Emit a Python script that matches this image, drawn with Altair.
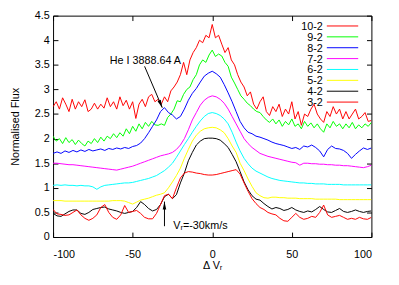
import altair as alt
import pandas as pd
import math

# ---------------- data ----------------
series_order = ["10-2", "9-2", "8-2", "7-2", "6-2", "5-2", "4-2", "3-2"]
series_colors = ["#ff0000", "#00ff00", "#0000ff", "#ff00ff", "#00ffff", "#ffff00", "#000000", "#ff0000"]
series_widths = [1, 1, 1, 1, 1, 1, 1, 2]

x_fine = list(range(-100, 101, 2))            # 101 points, used for the noisiest series
x_coarse = [-100 + 2.5 * i for i in range(81)]  # 81 points

s10_2 = [2.65, 2.75, 2.6, 2.83, 2.7, 2.55, 2.8, 2.6, 2.75, 2.65,
         2.79, 2.55, 2.6, 2.72, 2.6, 2.7, 2.62, 2.83, 2.65, 2.75,
         2.6, 2.85, 2.67, 2.78, 2.6, 2.75, 2.41, 2.7, 2.8, 2.65,
         2.85, 2.9, 2.75, 2.8, 2.7, 2.85, 2.75, 2.97, 3.05, 3.15,
         3.3, 3.55, 3.3, 3.6, 3.75, 3.85, 4.0, 3.95, 4.1, 4.05,
         4.32, 4.05, 4.1, 3.92, 3.75, 3.85, 3.6, 3.5, 3.3, 3.15,
         3.05, 2.87, 2.95, 2.7, 2.6, 2.75, 2.85, 2.55, 2.47, 2.65,
         2.55, 2.7, 2.45, 2.6, 2.5, 2.75, 2.4, 2.55, 2.27, 2.5,
         2.45, 2.6, 2.7, 2.5, 2.4, 2.33, 2.55, 2.45, 2.65, 2.5,
         2.6, 2.4, 2.55, 2.4, 2.5, 2.6, 2.4, 2.45, 2.53, 2.35,
         2.37]

s9_2 = [2.05, 1.95, 2.0, 1.9, 2.02, 1.92, 1.98, 1.88, 1.97, 1.9,
        1.85, 1.95, 1.9, 2.0, 1.92, 2.03, 1.95, 2.05, 2.0, 2.1,
        2.02, 2.12, 2.05, 2.2, 2.1, 2.25, 2.15, 2.3, 2.2, 2.33,
        2.25, 2.35, 2.28, 2.27, 2.3, 2.27, 2.43, 2.5, 2.6, 2.77,
        2.75, 2.9, 3.0, 3.05, 3.2, 3.3, 3.5, 3.6, 3.55, 3.7,
        3.8, 3.67, 3.72, 3.68, 3.55, 3.47, 3.25, 3.13, 3.0, 2.87,
        2.8, 2.72, 2.67, 2.6, 2.55, 2.53, 2.45, 2.38, 2.33, 2.4,
        2.3, 2.38, 2.25, 2.35, 2.28, 2.4, 2.25, 2.3, 2.2, 2.35,
        2.25, 2.32, 2.22, 2.3, 2.2, 2.13, 2.3, 2.22, 2.35, 2.25,
        2.3, 2.2, 2.3, 2.22, 2.33, 2.2, 2.28, 2.22, 2.3, 2.25,
        2.33]

s8_2 = [1.7, 1.73, 1.7, 1.75, 1.72, 1.76, 1.73, 1.77, 1.74, 1.78,
        1.75, 1.77, 1.79, 1.76, 1.8, 1.78, 1.81, 1.79, 1.82, 1.8,
        1.84, 1.86, 1.91, 2.0, 2.12, 2.25, 2.38, 2.55, 2.63, 2.53,
        2.48, 2.4, 2.45, 2.6, 2.78, 2.92, 3.02, 3.15, 3.27, 3.33,
        3.37, 3.32, 3.25, 3.1, 2.93, 2.75, 2.55, 2.35, 2.22, 2.13,
        2.1, 2.05, 2.03, 2.0, 1.97, 1.93, 1.9, 1.88, 1.86, 1.83,
        1.8, 1.82, 1.78, 1.85, 1.83, 1.87, 1.82, 1.75, 1.63, 1.78,
        1.85, 1.8, 1.79, 1.76, 1.7, 1.6, 1.68, 1.75, 1.81, 1.78,
        1.81]

s7_2 = [1.5, 1.5, 1.49, 1.48, 1.47, 1.47, 1.46, 1.45, 1.44, 1.43,
        1.42, 1.41, 1.4, 1.39, 1.38, 1.37, 1.36, 1.38, 1.4, 1.42,
        1.44, 1.47, 1.5, 1.53, 1.56, 1.59, 1.62, 1.65, 1.67, 1.69,
        1.72, 1.78, 1.87, 2.0, 2.18, 2.38, 2.53, 2.68, 2.78, 2.84,
        2.87, 2.85, 2.8, 2.72, 2.6, 2.45, 2.3, 2.15, 2.0, 1.9,
        1.82, 1.76, 1.7, 1.67, 1.64, 1.62, 1.6, 1.58, 1.56, 1.54,
        1.52, 1.51, 1.46, 1.5, 1.5, 1.49, 1.49, 1.48, 1.48, 1.47,
        1.47, 1.46, 1.46, 1.45, 1.45, 1.44, 1.43, 1.42, 1.41, 1.43,
        1.46]

s6_2 = [1.05, 1.06, 1.05, 1.06, 1.05, 1.05, 1.04, 1.05, 1.04, 1.04,
        1.02, 0.97, 1.02, 1.05, 1.06, 1.07, 1.08, 1.09, 1.1, 1.1,
        1.11, 1.13, 1.15, 1.17, 1.19, 1.22, 1.25, 1.3, 1.35, 1.42,
        1.5, 1.62, 1.75, 1.88, 2.0, 2.13, 2.25, 2.36, 2.45, 2.51,
        2.53, 2.51, 2.47, 2.4, 2.3, 2.13, 1.93, 1.75, 1.6, 1.49,
        1.4, 1.34, 1.3, 1.26, 1.22, 1.19, 1.17, 1.15, 1.14, 1.13,
        1.12, 1.11, 1.1, 1.1, 1.09, 1.09, 1.08, 1.08, 1.08, 1.07,
        1.07, 1.07, 1.07, 1.06, 1.06, 1.06, 1.06, 1.06, 1.06, 1.06,
        1.06]

s5_2 = [0.74, 0.74, 0.74, 0.73, 0.73, 0.73, 0.73, 0.73, 0.73, 0.73,
        0.73, 0.73, 0.73, 0.73, 0.73, 0.74, 0.74, 0.74, 0.73, 0.7,
        0.67, 0.71, 0.75, 0.77, 0.79, 0.82, 0.85, 0.87, 0.9, 1.0,
        1.12, 1.25, 1.4, 1.6, 1.78, 1.95, 2.07, 2.15, 2.2, 2.22,
        2.23, 2.22, 2.18, 2.12, 2.0, 1.85, 1.72, 1.5, 1.35, 1.18,
        1.03, 0.9, 0.84, 0.8, 0.79, 0.81, 0.81, 0.8, 0.8, 0.79,
        0.79, 0.79, 0.78, 0.78, 0.78, 0.78, 0.77, 0.77, 0.77, 0.77,
        0.77, 0.77, 0.76, 0.76, 0.76, 0.76, 0.76, 0.76, 0.76, 0.76,
        0.76]

s4_2 = [0.48, 0.43, 0.42, 0.47, 0.52, 0.55, 0.55, 0.48, 0.46, 0.5,
        0.56, 0.58, 0.6, 0.61, 0.57, 0.55, 0.53, 0.5, 0.48, 0.5,
        0.52, 0.6, 0.72, 0.66, 0.58, 0.53, 0.56, 0.66, 0.82, 0.87,
        0.78, 0.86, 1.1, 1.3, 1.55, 1.72, 1.87, 1.95, 2.0, 2.01,
        2.01, 2.0, 1.97, 1.9, 1.82, 1.68, 1.53, 1.33, 1.12, 0.96,
        0.84, 0.77, 0.75, 0.68, 0.62, 0.57, 0.6, 0.58, 0.54, 0.56,
        0.6, 0.55, 0.52, 0.5, 0.53, 0.51, 0.56, 0.62, 0.56, 0.51,
        0.5, 0.54, 0.58, 0.52, 0.5, 0.52, 0.55, 0.52, 0.5, 0.52,
        0.53]

s3_2 = [0.56, 0.47, 0.46, 0.44, 0.45, 0.5, 0.55, 0.45, 0.38, 0.34,
        0.38, 0.45, 0.6, 0.66, 0.5, 0.4, 0.36, 0.45, 0.64, 0.5,
        0.52, 0.54, 0.48, 0.4, 0.37, 0.37, 0.48, 0.66, 0.84, 0.87,
        0.78, 1.0, 1.2, 1.3, 1.33, 1.32, 1.3, 1.29, 1.27, 1.26,
        1.26, 1.27, 1.29, 1.31, 1.33, 1.35, 1.37, 1.28, 1.1, 0.93,
        0.78, 0.68, 0.6, 0.56, 0.5, 0.47, 0.45, 0.38, 0.33, 0.32,
        0.4, 0.48, 0.4, 0.36, 0.38, 0.42, 0.4, 0.5, 0.65, 0.45,
        0.4, 0.42, 0.44, 0.4, 0.36, 0.38, 0.36, 0.4, 0.37, 0.36,
        0.4]

x_ticks = [-100, -50, 0, 50, 100]
y_ticks = [0, 0.5, 1, 1.5, 2, 2.5, 3, 3.5, 4, 4.5]

# annotations
he_label = "He I 3888.64 A"
he_label_pos = [-42, 3.57]
he_arrow = [[-42.5, 3.47], [-31.4, 2.63]]   # tail, tip
vr_label = "Vᵣ=-30km/s"
vr_label_pos = [-24.5, 0.22]
vr_arrow = [[-30, 0.22], [-30, 0.72]]       # tail, tip

# key (legend) placement, in data units: label right edge, line start/end, first row, row step
key_label_x = 69.5
key_line_x = [72.0, 91.7]
key_top_y = 4.29
key_step_y = 0.221

# ---------------- build tables ----------------
series_data = [
    ("10-2", x_fine, s10_2), ("9-2", x_fine, s9_2), ("8-2", x_coarse, s8_2),
    ("7-2", x_coarse, s7_2), ("6-2", x_coarse, s6_2), ("5-2", x_coarse, s5_2),
    ("4-2", x_coarse, s4_2), ("3-2", x_coarse, s3_2),
]
rows = []
for name, xs_, ys_ in series_data:
    for k, (a, b) in enumerate(zip(xs_, ys_)):
        rows.append({"series": name, "v": a, "flux": b, "i": k})
df = pd.DataFrame(rows)

key_df = pd.DataFrame([
    {"series": name, "lx": key_label_x, "x1": key_line_x[0], "x2": key_line_x[1],
     "y": key_top_y - k * key_step_y}
    for k, name in enumerate(series_order)
])

W, H = 325, 226
px_x = W / 200.0
px_y = H / 4.5
head_len = 8  # px

arrow_rows, head_rows = [], []
for aid, (tail, tip) in enumerate([he_arrow, vr_arrow]):
    arrow_rows.append({"a": aid, "x": tail[0], "y": tail[1], "o": 0})
    arrow_rows.append({"a": aid, "x": tip[0], "y": tip[1], "o": 1})
    dxp = (tip[0] - tail[0]) * px_x
    dyp = -(tip[1] - tail[1]) * px_y
    L = math.hypot(dxp, dyp)
    ux, uy = dxp / L, dyp / L
    cx = tip[0] - ux * (head_len / 2) / px_x
    cy = tip[1] + uy * (head_len / 2) / px_y
    ang = (math.degrees(math.atan2(ux, -uy)) + 360) % 360
    head_rows.append({"x": cx, "y": cy, "ang": ang})
arrows_df = pd.DataFrame(arrow_rows)
heads_df = pd.DataFrame(head_rows)
labels_df = pd.DataFrame([{"x": he_label_pos[0], "y": he_label_pos[1], "t": he_label}])
vr_df = pd.DataFrame([{"x": vr_label_pos[0], "y": vr_label_pos[1], "t": vr_label}])

FONT = "Liberation Sans"
xs = alt.Scale(domain=[-100, 100], nice=False, zero=False)
ys = alt.Scale(domain=[0, 4.5], nice=False, zero=False)
cscale = alt.Scale(domain=series_order, range=series_colors)
wscale = alt.Scale(domain=series_order, range=series_widths)

lines = alt.Chart(df).mark_line(clip=True).encode(
    x=alt.X("v:Q", scale=xs, axis=alt.Axis(
        values=x_ticks, labelExpr="'' + datum.value", ticks=False, tickSize=0,
        domain=False, grid=False, title="Δ Vᵣ", labelPadding=12, titlePadding=0,
        orient="bottom")),
    y=alt.Y("flux:Q", scale=ys, axis=alt.Axis(
        values=y_ticks, labelExpr="'' + datum.value", ticks=False, tickSize=0,
        domain=False, grid=False, title="Normalised Flux", labelPadding=4,
        titlePadding=14, orient="left")),
    color=alt.Color("series:N", scale=cscale, legend=None),
    strokeWidth=alt.StrokeWidth("series:N", scale=wscale, legend=None),
    order="i:Q",
)

def tick_layer(xo, yo):
    return alt.Chart(df).mark_point(opacity=0).encode(
        x=alt.X("v:Q", scale=xs, axis=alt.Axis(
            orient=xo, offset=-5, tickSize=5, labels=False, domain=False,
            grid=False, title=None, values=x_ticks, tickColor="black")),
        y=alt.Y("flux:Q", scale=ys, axis=alt.Axis(
            orient=yo, offset=-5, tickSize=5, labels=False, domain=False,
            grid=False, title=None, values=y_ticks, tickColor="black")),
    )

ticks_a = tick_layer("bottom", "left")
ticks_b = tick_layer("top", "right")

key_lines = alt.Chart(key_df).mark_rule().encode(
    x=alt.X("x1:Q", scale=xs, axis=None),
    x2="x2:Q",
    y=alt.Y("y:Q", scale=ys, axis=None),
    color=alt.Color("series:N", scale=cscale, legend=None),
    strokeWidth=alt.StrokeWidth("series:N", scale=wscale, legend=None),
)
key_text = alt.Chart(key_df).mark_text(
    align="right", baseline="middle", fontSize=11, font=FONT, color="black", dy=1
).encode(
    x=alt.X("lx:Q", scale=xs, axis=None),
    y=alt.Y("y:Q", scale=ys, axis=None),
    text="series:N",
)

arrow_lines = alt.Chart(arrows_df).mark_line(color="black", strokeWidth=1).encode(
    x=alt.X("x:Q", scale=xs, axis=None),
    y=alt.Y("y:Q", scale=ys, axis=None),
    detail="a:N", order="o:Q",
)
arrow_heads = alt.Chart(heads_df).mark_point(
    shape="M0,-1L0.45,1L-0.45,1Z", filled=True, color="black", opacity=1, size=64, strokeWidth=0
).encode(
    x=alt.X("x:Q", scale=xs, axis=None),
    y=alt.Y("y:Q", scale=ys, axis=None),
    angle=alt.Angle("ang:Q", scale=None),
)
he_text = alt.Chart(labels_df).mark_text(
    align="center", baseline="middle", fontSize=11, font=FONT, color="black"
).encode(
    x=alt.X("x:Q", scale=xs, axis=None),
    y=alt.Y("y:Q", scale=ys, axis=None),
    text="t:N",
)
vr_text = alt.Chart(vr_df).mark_text(
    align="left", baseline="middle", fontSize=11, font=FONT, color="black"
).encode(
    x=alt.X("x:Q", scale=xs, axis=None),
    y=alt.Y("y:Q", scale=ys, axis=None),
    text="t:N",
)

chart = alt.layer(
    lines, ticks_a, ticks_b, key_lines, key_text, arrow_lines, arrow_heads, he_text, vr_text
).resolve_axis(x="independent", y="independent").properties(
    width=W, height=H,
    autosize=alt.AutoSizeParams(type="none"),
    padding={"left": 46, "top": 5, "right": 20, "bottom": 38},
    background="white",
).configure_view(
    stroke="black", strokeWidth=1
).configure_axis(
    labelFont=FONT, titleFont=FONT, labelFontSize=11, titleFontSize=11,
    labelColor="black", titleColor="black", titleFontWeight="normal",
)

chart.save("out.html", embed_options={"renderer": "svg", "actions": False})
